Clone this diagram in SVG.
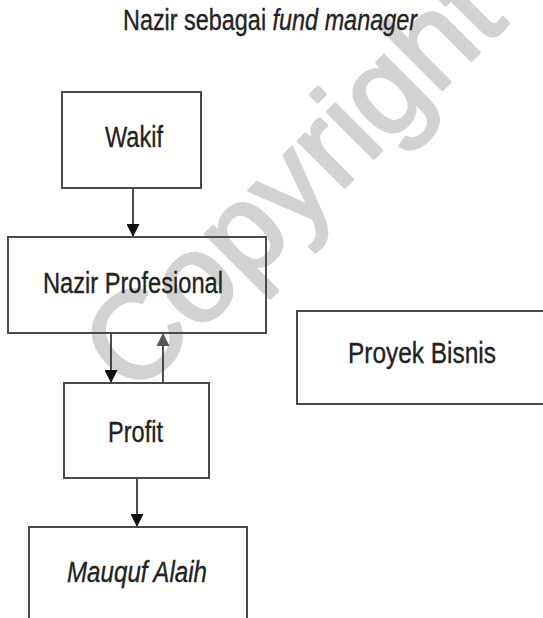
<svg xmlns="http://www.w3.org/2000/svg" width="543" height="618" viewBox="0 0 543 618">
  <style>
    .box { fill: none; stroke: #4a4a4a; stroke-width: 2; }
    .lbl { font-family: "Liberation Sans", Arial, sans-serif; font-size: 29px; fill: #222; stroke: #222; stroke-width: 0.35; }
    .it { font-style: italic; }
    .edge { stroke: #222; stroke-width: 1.6; fill: none; }
    .wm { font-family: "Liberation Sans", Arial, sans-serif; font-size: 124px; fill: #d2d2d2; stroke: #d2d2d2; stroke-width: 3; stroke-linejoin: round; }
  </style>
  <defs>
    <marker id="ah" viewBox="0 0 10 10" refX="10" refY="5" markerWidth="13" markerHeight="13" markerUnits="userSpaceOnUse" orient="auto">
      <path d="M0,0 L10,5 L0,10 Z" fill="#111"/>
    </marker>
    <marker id="ahg" viewBox="0 0 10 10" refX="10" refY="5" markerWidth="13" markerHeight="13" markerUnits="userSpaceOnUse" orient="auto">
      <path d="M0,0 L10,5 L0,10 Z" fill="#555"/>
    </marker>
  </defs>
  <rect width="543" height="618" fill="#fff"/>
  <text class="wm" x="134" y="398" transform="rotate(-45 134 398)">Copyright</text>
  <text class="lbl" x="123" y="30" textLength="294" lengthAdjust="spacingAndGlyphs">Nazir sebagai <tspan class="it">fund manager</tspan></text>
  <g id="connectors">
    <line class="edge" x1="133" y1="188" x2="133" y2="237" marker-end="url(#ah)"/>
    <line class="edge" x1="111" y1="333" x2="111" y2="383" marker-end="url(#ah)"/>
    <line class="edge" x1="163" y1="383" x2="163" y2="333" marker-end="url(#ahg)"/>
    <line class="edge" x1="137" y1="478" x2="137" y2="527" marker-end="url(#ah)"/>
  </g>
  <g id="wakif">
    <rect class="box" x="62" y="92" width="139" height="96"/>
    <text class="lbl" x="105" y="147" textLength="58" lengthAdjust="spacingAndGlyphs">Wakif</text>
  </g>
  <g id="nazir">
    <rect class="box" x="8" y="237" width="258" height="96"/>
    <text class="lbl" x="43" y="293" textLength="180" lengthAdjust="spacingAndGlyphs">Nazir Profesional</text>
  </g>
  <g id="proyek">
    <rect class="box" x="297" y="311" width="260" height="93"/>
    <text class="lbl" x="348" y="363" textLength="148" lengthAdjust="spacingAndGlyphs">Proyek Bisnis</text>
  </g>
  <g id="profit">
    <rect class="box" x="64" y="383" width="145" height="95"/>
    <text class="lbl" x="108" y="442" textLength="55" lengthAdjust="spacingAndGlyphs">Profit</text>
  </g>
  <g id="mauquf">
    <rect class="box" x="29" y="527" width="218" height="110"/>
    <text class="lbl it" x="67" y="582" textLength="140" lengthAdjust="spacingAndGlyphs">Mauquf Alaih</text>
  </g>
</svg>
